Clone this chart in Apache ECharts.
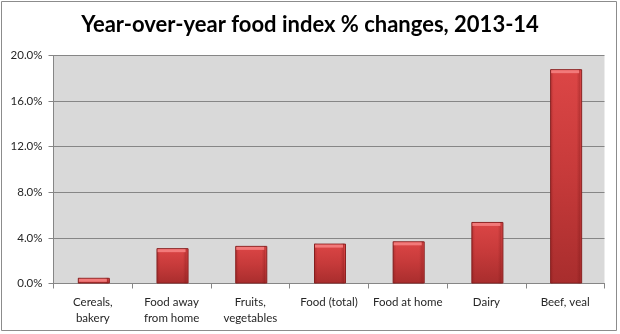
<!DOCTYPE html>
<html>
<head>
<meta charset="utf-8">
<style>
  html, body { margin: 0; padding: 0; background: #ffffff; }
  #chart { width: 620px; height: 334px; }
</style>
<script src="https://cdn.jsdelivr.net/npm/echarts@6/dist/echarts.min.js"></script>
</head>
<body>
<div id="chart"></div>
<script>
// Food price categories and their year-over-year change (%)
const categories = ['Cereals,\nbakery', 'Food away\nfrom home', 'Fruits,\nvegetables', 'Food (total)', 'Food at home', 'Dairy', 'Beef, veal'];
const changes = [0.5, 3.1, 3.3, 3.5, 3.7, 5.4, 18.8];
const yTicks = [0, 4, 8, 12, 16, 20];

const chart = echarts.init(document.getElementById('chart'), null, { renderer: 'canvas' });

// Body of each bar: lighter red at the top, deeper red at the base
const barFill = new echarts.graphic.LinearGradient(0, 0, 0, 1, [
  { offset: 0, color: '#dc4646' },
  { offset: 0.5, color: '#c63a3a' },
  { offset: 1, color: '#a82d2d' }
]);

// Side shading for the bevelled look
const edgeShade = new echarts.graphic.LinearGradient(0, 0, 1, 0, [
  { offset: 0, color: 'rgba(120,20,20,0.35)' },
  { offset: 0.12, color: 'rgba(120,20,20,0)' },
  { offset: 0.88, color: 'rgba(120,20,20,0)' },
  { offset: 1, color: 'rgba(120,20,20,0.35)' }
]);

chart.setOption({
  animation: false,
  backgroundColor: '#ffffff',
  title: {
    text: 'Year-over-year food index % changes, 2013-14',
    left: 'center',
    top: 9,
    textStyle: {
      fontFamily: 'Lato',
      fontWeight: 'bold',
      fontSize: 22,
      color: '#000000'
    }
  },
  graphic: [{
    type: 'rect',
    shape: { x: 1.5, y: 1.5, width: 615, height: 329 },
    style: { fill: 'none', stroke: '#8c8c8c', lineWidth: 1 },
    silent: true,
    z: 100
  }],
  grid: {
    left: 53.5,
    right: 15.5,
    top: 55.5,
    bottom: 50.5,
    show: true,
    backgroundColor: '#d9d9d9',
    borderWidth: 0
  },
  xAxis: {
    type: 'category',
    data: categories,
    axisLine: { show: true, lineStyle: { color: '#868686', width: 1 } },
    axisTick: { show: true, alignWithLabel: false, length: 5, lineStyle: { color: '#868686' } },
    axisLabel: {
      interval: 0,
      margin: 11,
      color: '#262626',
      fontFamily: 'Lato',
      fontSize: 11.5,
      lineHeight: 16
    }
  },
  yAxis: {
    type: 'value',
    min: yTicks[0],
    max: yTicks[yTicks.length - 1],
    interval: yTicks[1] - yTicks[0],
    axisLine: { show: true, lineStyle: { color: '#868686', width: 1 } },
    axisTick: { show: true, length: 5, lineStyle: { color: '#868686' } },
    splitLine: { show: true, lineStyle: { color: '#868686', width: 1 } },
    axisLabel: {
      margin: 11,
      color: '#262626',
      fontFamily: 'Lato',
      fontSize: 11.5,
      formatter: v => v.toFixed(1) + '%'
    }
  },
  series: [{
    type: 'bar',
    data: changes,
    barWidth: 32,
    barGap: '-100%',
    itemStyle: {
      color: barFill,
      borderColor: '#8a2222',
      borderWidth: 1
    },
    z: 2
  }, {
    // side shading overlay on each bar
    type: 'bar',
    data: changes,
    barWidth: 30,
    barGap: '-100%',
    itemStyle: { color: edgeShade },
    silent: true,
    z: 3
  }, {
    // light bevel strip along the top of each bar
    type: 'pictorialBar',
    data: changes,
    symbol: 'rect',
    symbolSize: [28, 3],
    symbolPosition: 'end',
    symbolOffset: [0, 1],
    itemStyle: { color: '#f27a7a' },
    silent: true,
    z: 4
  }]
});
</script>
</body>
</html>
